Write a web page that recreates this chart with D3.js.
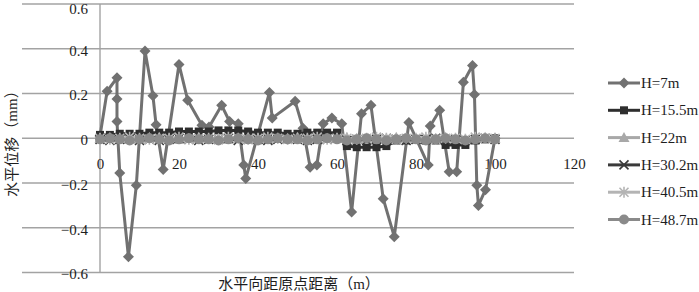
<!DOCTYPE html>
<html>
<head>
<meta charset="utf-8">
<script src="https://cdn.jsdelivr.net/npm/d3@7"></script>
<style>
    body { margin: 0; background: #fff; }
    svg text { font-family: "Liberation Serif", "Times New Roman", "DejaVu Serif", "Noto Sans CJK SC", serif; }
</style>
</head>
<body>
<div id="canvas"></div>
<script>
"use strict";

let svgWidth = 699;
let svgHeight = 292;

/* ---------------- DATA ---------------- */

let seriesNames = ["H=7m", "H=15.5m", "H=22m", "H=30.2m", "H=40.5m", "H=48.7m"];

let xTicks = [0, 20, 40, 60, 80, 100, 120];
let yTicks = [-0.6, -0.4, -0.2, 0, 0.2, 0.4, 0.6];

// H=7m, irregular stations
let h7X = [0, 1.8, 4.3, 4.3, 4.3, 5.0, 7.2, 9.2, 11.4, 13.4, 14.2, 16.0, 20.0, 22.2, 25.8, 27.6,
    30.8, 32.8, 35.0, 36.4, 36.9, 42.9, 43.6, 49.4, 51.4, 53.2, 54.9, 56.5, 58.7, 61.2, 63.7,
    66.2, 68.6, 71.7, 74.5, 78.2, 83.1, 83.6, 86.0, 88.4, 90.3, 92.0, 94.3, 94.8, 95.4, 95.8, 97.6, 100];
let h7Y = [0.01, 0.21, 0.27, 0.175, 0.075, -0.155, -0.53, -0.21, 0.39, 0.19, 0.06, -0.14, 0.33, 0.17, 0.058, 0.05,
    0.147, 0.075, 0.065, -0.12, -0.18, 0.205, 0.09, 0.165, 0.045, -0.13, -0.12, 0.065, 0.09, 0.065, -0.33,
    0.11, 0.147, -0.27, -0.44, 0.07, -0.12, 0.055, 0.125, -0.15, -0.15, 0.25, 0.325, 0.195, -0.21, -0.30, -0.23, 0];

// other levels, regular stations
let stationX = [0, 2.5, 5, 7.5, 10, 12.5, 15, 17.5, 20, 22.5, 25, 27.5, 30, 32.5, 35, 37.5, 40, 42.5, 45, 47.5,
    50, 52.5, 55, 57.5, 60, 62.5, 65, 67.5, 70, 72.5, 75, 77.5, 80, 82.5, 85, 87.5, 90, 92.5, 95, 97.5, 100];

let h15Y = [0.015, 0.015, 0.02, 0.02, 0.02, 0.025, 0.025, 0.025, 0.03, 0.03, 0.03, 0.03, 0.035, 0.035, 0.035, 0.03,
    0.025, 0.025, 0.025, 0.02, 0.02, 0.025, 0.025, 0.025, 0.025, -0.035, -0.04, -0.04, -0.04, -0.035,
    -0.01, -0.01, -0.005, -0.01, -0.01, -0.03, -0.03, -0.03, -0.01, -0.005, 0];
let h22Y = [0, 0.005, 0, -0.005, 0, 0.005, 0.005, 0, -0.005, 0, 0.005, 0, 0, -0.005, 0, 0.005, 0, -0.005, 0, 0,
    0.005, 0, -0.005, 0, 0, 0.005, 0, -0.005, -0.005, 0, 0.005, 0, -0.005, 0, 0, 0.005, 0, -0.005, 0, 0.005, 0];
let h30Y = [-0.005, -0.01, -0.005, 0, -0.01, -0.005, -0.01, -0.005, 0, -0.005, -0.01, -0.005, -0.005, 0, -0.01, -0.005,
    -0.005, -0.01, -0.005, 0, -0.005, -0.01, -0.005, -0.005, 0, -0.01, -0.005, -0.01, -0.005, 0, -0.005, -0.01,
    -0.005, -0.005, 0, -0.01, -0.005, -0.01, -0.005, 0, -0.005];
let h40Y = [0, -0.005, 0, 0.005, 0, -0.005, 0, 0, 0.005, -0.005, 0, 0, -0.005, 0.005, 0, -0.005, 0, 0.005, 0, -0.005,
    0, 0, 0.005, -0.005, 0, 0, -0.005, 0, 0.005, 0, -0.005, 0, 0, 0.005, -0.005, 0, 0, -0.005, 0.005, 0, 0];
let h48Y = [-0.005, 0, -0.005, -0.01, -0.005, 0, -0.005, -0.01, -0.005, 0, -0.005, -0.005, -0.01, -0.005, 0, -0.005,
    -0.01, -0.005, 0, -0.005, -0.005, -0.01, -0.005, 0, -0.005, -0.01, -0.005, 0, -0.005, -0.01, -0.005, 0, -0.005,
    -0.01, -0.005, 0, -0.005, -0.01, -0.005, 0, -0.005];

/* ---------------- STYLES ---------------- */

let styles = [
    { color: "#717171", marker: "diamond" },
    { color: "#2e2e2e", marker: "square" },
    { color: "#a8a8a8", marker: "triangle" },
    { color: "#3a3a3a", marker: "cross" },
    { color: "#b4b4b4", marker: "star" },
    { color: "#8a8a8a", marker: "circle" }
];

let svg = d3.select("#canvas")
    .append("svg")
    .attr("width", svgWidth)
    .attr("height", svgHeight);

svg.append("rect")
    .attr("width", svgWidth)
    .attr("height", svgHeight)
    .attr("fill", "#fff");

/* ---------------- SCALES ---------------- */

let xScale = d3.scaleLinear().domain([0, 120]).range([100, 574]);
let yScale = d3.scaleLinear().domain([-0.6, 0.6]).range([272.5, 4]);

/* ---------------- GRID ---------------- */

let gridLayer = svg.append("g");

gridLayer.selectAll("line")
    .data(yTicks)
    .enter()
    .append("line")
    .attr("x1", 22)
    .attr("x2", 574)
    .attr("y1", d => yScale(d))
    .attr("y2", d => yScale(d))
    .attr("stroke", "#a3a3a3")
    .attr("stroke-width", 1.4);

gridLayer.append("line")
    .attr("x1", xScale(0))
    .attr("x2", xScale(0))
    .attr("y1", yScale(0.6))
    .attr("y2", yScale(-0.6))
    .attr("stroke", "#a3a3a3")
    .attr("stroke-width", 1.4);

/* ---------------- AXES ---------------- */

let yAxis = d3.axisLeft(yScale)
    .tickValues(yTicks)
    .tickSize(0)
    .tickPadding(12)
    .tickFormat(d => Math.abs(d) < 1e-9 ? "0" : d3.format(".1f")(d));

let yAxisG = svg.append("g")
    .attr("transform", "translate(" + xScale(0) + ",0)")
    .call(yAxis);

let xAxis = d3.axisBottom(xScale)
    .tickValues(xTicks)
    .tickSize(0)
    .tickPadding(20);

let xAxisG = svg.append("g")
    .attr("transform", "translate(0," + yScale(0) + ")")
    .call(xAxis);

[yAxisG, xAxisG].forEach(function (g) {
    g.attr("font-family", null).attr("font-size", null);
    g.select(".domain").remove();
    g.selectAll("text")
        .style("font-size", "15px")
        .attr("fill", "#1e1e1e");
});

// nudge y labels down a little; the top one more so it stays inside
yAxisG.selectAll("text").attr("y", d => d === 0.6 ? 4.2 : 1.5);

/* titles */
svg.append("text")
    .attr("transform", "translate(12,140) rotate(-90)")
    .attr("dy", "0.35em")
    .attr("text-anchor", "middle")
    .style("font-size", "15px")
    .attr("fill", "#1e1e1e")
    .text("水平位移（mm）");

svg.append("text")
    .attr("x", 299)
    .attr("y", 289)
    .attr("text-anchor", "middle")
    .style("font-size", "15px")
    .attr("fill", "#1e1e1e")
    .text("水平向距原点距离（m）");

/* ---------------- MARKERS ---------------- */

function drawMarker(g, x, y, type, color) {
    if (type === "diamond") {
        g.append("path")
            .attr("d", "M" + x + "," + (y - 5.5) + "L" + (x + 5.5) + "," + y + "L" + x + "," + (y + 5.5) + "L" + (x - 5.5) + "," + y + "Z")
            .attr("fill", color);
    } else if (type === "square") {
        g.append("rect")
            .attr("x", x - 4).attr("y", y - 4)
            .attr("width", 8).attr("height", 8)
            .attr("fill", color);
    } else if (type === "triangle") {
        g.append("path")
            .attr("d", "M" + x + "," + (y - 5.5) + "L" + (x + 5.5) + "," + (y + 4.5) + "L" + (x - 5.5) + "," + (y + 4.5) + "Z")
            .attr("fill", color);
    } else if (type === "cross" || type === "star") {
        g.append("path")
            .attr("d", "M" + (x - 4.5) + "," + (y - 4.5) + "L" + (x + 4.5) + "," + (y + 4.5) +
                "M" + (x + 4.5) + "," + (y - 4.5) + "L" + (x - 4.5) + "," + (y + 4.5) +
                (type === "star" ? "M" + x + "," + (y - 5.5) + "L" + x + "," + (y + 5.5) : ""))
            .attr("stroke", color)
            .attr("stroke-width", 1.6)
            .attr("fill", "none");
    } else {
        g.append("circle")
            .attr("cx", x).attr("cy", y)
            .attr("r", 5)
            .attr("fill", color);
    }
}

/* ---------------- SERIES ---------------- */

let seriesData = [
    h7X.map((x, i) => ({ x: x, y: h7Y[i] })),
    stationX.map((x, i) => ({ x: x, y: h15Y[i] })),
    stationX.map((x, i) => ({ x: x, y: h22Y[i] })),
    stationX.map((x, i) => ({ x: x, y: h30Y[i] })),
    stationX.map((x, i) => ({ x: x, y: h40Y[i] })),
    stationX.map((x, i) => ({ x: x, y: h48Y[i] }))
];

let line = d3.line()
    .x(d => xScale(d.x))
    .y(d => yScale(d.y));

let seriesLayer = svg.append("g");

seriesData.forEach(function (points, s) {
    let g = seriesLayer.append("g");
    g.append("path")
        .datum(points)
        .attr("d", line)
        .attr("fill", "none")
        .attr("stroke", styles[s].color)
        .attr("stroke-width", 3)
        .attr("stroke-linejoin", "round");
    points.forEach(function (p) {
        drawMarker(g, xScale(p.x), yScale(p.y), styles[s].marker, styles[s].color);
    });
});

/* ---------------- LEGEND ---------------- */

let legend = svg.append("g");

seriesNames.forEach(function (name, i) {
    let cy = 83 + i * 27.3;
    legend.append("line")
        .attr("x1", 608).attr("x2", 640)
        .attr("y1", cy).attr("y2", cy)
        .attr("stroke", styles[i].color)
        .attr("stroke-width", 3);
    drawMarker(legend, 624, cy, styles[i].marker, styles[i].color);
    legend.append("text")
        .attr("x", 641)
        .attr("y", cy + 5)
        .style("font-size", "15px")
        .attr("fill", "#1e1e1e")
        .text(name);
});
</script>
</body>
</html>
